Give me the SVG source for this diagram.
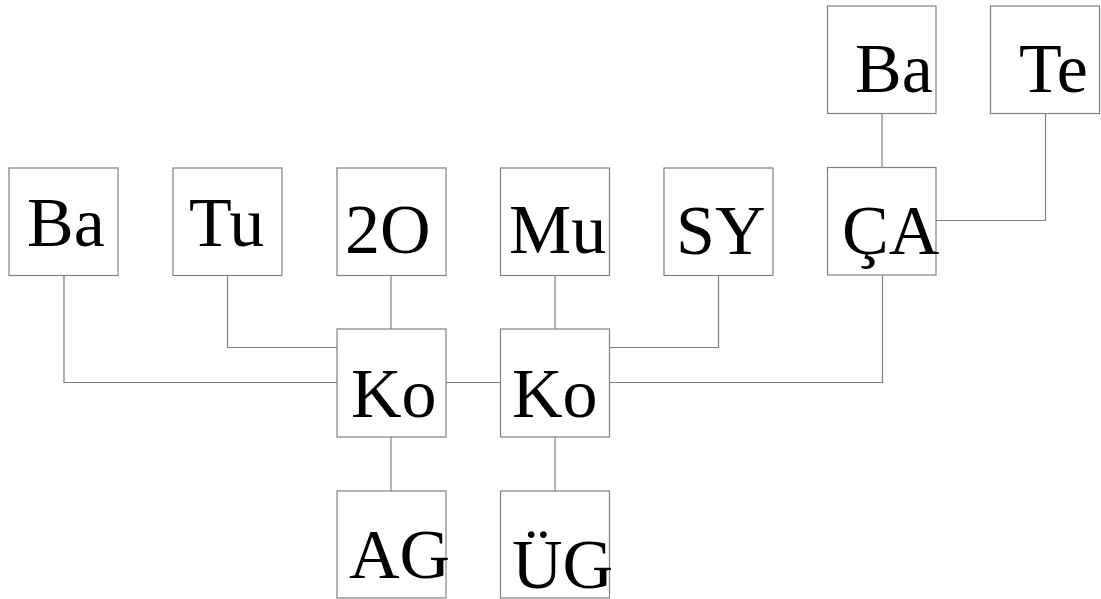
<svg xmlns="http://www.w3.org/2000/svg" width="1101" height="599" viewBox="0 0 1101 599">
<style>
rect{fill:#fff;stroke:#808080;stroke-width:1.2}
text{font-family:"Liberation Serif","Times New Roman",serif;font-size:70px;fill:#000}
#connectors path{fill:none;stroke:#808080;stroke-width:1.2}
</style>
<rect x="0" y="0" width="1101" height="599" style="stroke:none"/>
<g id="connectors">
<path d="M64 275.5V382.5H337"/>
<path d="M227.5 275.5V347.5H337"/>
<path d="M391 275.5V329"/>
<path d="M446 382.5H500.5"/>
<path d="M555 275.5V329"/>
<path d="M718.5 275.5V347.5H609.5"/>
<path d="M882.5 275V382.5H609.5"/>
<path d="M882 113.5V167"/>
<path d="M1045.5 113.5V220.5H936"/>
<path d="M391 437V491"/>
<path d="M555 437V491"/>
</g>
<g id="n-ba1"><rect x="9" y="168" width="109" height="107.5"/><text x="27" y="246">Ba</text></g>
<g id="n-tu"><rect x="173" y="168" width="109" height="107.5"/><text x="189" y="246">Tu</text></g>
<g id="n-2o"><rect x="337" y="168" width="109" height="107.5"/><text x="345" y="253">2O</text></g>
<g id="n-mu"><rect x="500.5" y="168" width="109" height="107.5"/><text x="509" y="253">Mu</text></g>
<g id="n-sy"><rect x="664" y="168" width="109" height="107.5"/><text x="676" y="254">SY</text></g>
<g id="n-ca"><rect x="827.5" y="167.5" width="108.5" height="107.5"/><text x="842" y="254">ÇA</text></g>
<g id="n-ba2"><rect x="827.5" y="6" width="108.5" height="107.5"/><text x="855" y="92">Ba</text></g>
<g id="n-te"><rect x="990.5" y="6" width="109" height="107.5"/><text x="1019" y="92">Te</text></g>
<g id="n-ko1"><rect x="337" y="329" width="109" height="108"/><text x="351" y="417">Ko</text></g>
<g id="n-ko2"><rect x="500.5" y="329" width="109" height="108"/><text x="512" y="417">Ko</text></g>
<g id="n-ag"><rect x="337" y="491" width="109" height="107"/><text x="349" y="578">AG</text></g>
<g id="n-ug"><rect x="500.5" y="491" width="109" height="107"/><text x="512" y="588">ÜG</text></g>
</svg>
